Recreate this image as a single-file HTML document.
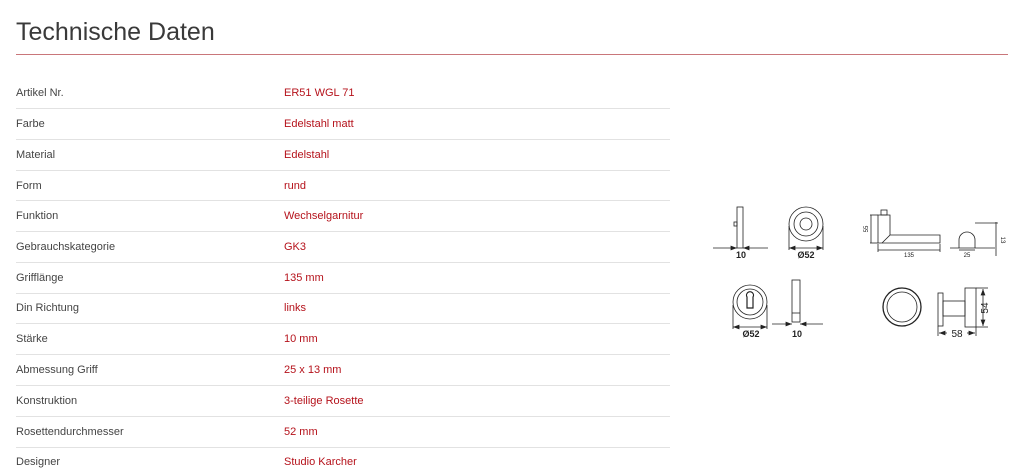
<!DOCTYPE html>
<html><head><meta charset="utf-8"><style>
html,body{margin:0;padding:0;background:#fff;width:1024px;height:474px;overflow:hidden;position:relative;font-family:"Liberation Sans",sans-serif}
h1{position:absolute;left:16px;top:18px;margin:0;font-weight:300;font-size:25px;color:#3a3a3a;letter-spacing:0}
.red{position:absolute;left:16px;top:54px;width:992px;height:1px;background:#c9767a}
.r{position:absolute;left:16px;width:654px;font-size:11px;color:#444}
.r span{position:absolute;left:268px;color:#b5121b;white-space:nowrap}
.d{position:absolute;left:16px;width:654px;height:1px;background:#e2e2e2}
svg{position:absolute;left:0;top:0}
</style></head><body>
<h1>Technische Daten</h1>
<div class="red"></div>
<div class="r" style="top:87px">Artikel Nr.<span>ER51 WGL 71</span></div>
<div class="d" style="top:108px"></div>
<div class="r" style="top:118px">Farbe<span>Edelstahl matt</span></div>
<div class="d" style="top:139px"></div>
<div class="r" style="top:149px">Material<span>Edelstahl</span></div>
<div class="d" style="top:170px"></div>
<div class="r" style="top:180px">Form<span>rund</span></div>
<div class="d" style="top:200px"></div>
<div class="r" style="top:210px">Funktion<span>Wechselgarnitur</span></div>
<div class="d" style="top:231px"></div>
<div class="r" style="top:241px">Gebrauchskategorie<span>GK3</span></div>
<div class="d" style="top:262px"></div>
<div class="r" style="top:272px">Grifflänge<span>135 mm</span></div>
<div class="d" style="top:293px"></div>
<div class="r" style="top:302px">Din Richtung<span>links</span></div>
<div class="d" style="top:323px"></div>
<div class="r" style="top:333px">Stärke<span>10 mm</span></div>
<div class="d" style="top:354px"></div>
<div class="r" style="top:364px">Abmessung Griff<span>25 x 13 mm</span></div>
<div class="d" style="top:385px"></div>
<div class="r" style="top:395px">Konstruktion<span>3-teilige Rosette</span></div>
<div class="d" style="top:416px"></div>
<div class="r" style="top:426px">Rosettendurchmesser<span>52 mm</span></div>
<div class="d" style="top:447px"></div>
<div class="r" style="top:456px">Designer<span>Studio Karcher</span></div>

<svg width="1024" height="474" viewBox="0 0 1024 474" fill="none" stroke="#222" stroke-width="0.8">
<defs><marker id="a" markerWidth="8" markerHeight="6" refX="8" refY="3" orient="auto"><path d="M0,0L8,3L0,6z" fill="#222" stroke="none"/></marker></defs>
<rect x="737" y="207" width="6" height="41"/><rect x="734" y="222" width="3" height="4"/>
<line x1="713" y1="248" x2="737" y2="248" marker-end="url(#a)"/><line x1="768" y1="248" x2="743" y2="248" marker-end="url(#a)"/>
<circle cx="806" cy="224" r="17"/><circle cx="806" cy="224" r="12"/><circle cx="806" cy="224" r="6"/>
<line x1="789" y1="226" x2="789" y2="250"/><line x1="823" y1="226" x2="823" y2="250"/>
<line x1="806" y1="248" x2="789" y2="248" marker-end="url(#a)"/><line x1="806" y1="248" x2="823" y2="248" marker-end="url(#a)"/>
<rect x="881" y="210" width="6" height="5"/>
<path d="M878 215H890V235H940V243H878Z"/><path d="M882 243L890 235"/>
<line x1="870" y1="215" x2="878" y2="215"/><line x1="870" y1="243" x2="878" y2="243"/><line x1="871" y1="215" x2="871" y2="243"/>
<line x1="878" y1="244" x2="878" y2="252"/><line x1="940" y1="244" x2="940" y2="252"/><line x1="878" y1="250" x2="940" y2="250"/>
<path d="M959 248V240A8 8 0 0 1 975 240V248"/>
<line x1="950" y1="248" x2="995" y2="248"/><line x1="959" y1="250" x2="975" y2="250"/>
<line x1="975" y1="223" x2="998" y2="223"/><line x1="996" y1="222" x2="996" y2="256"/>
<circle cx="750" cy="302" r="17"/><circle cx="750" cy="302" r="13"/>
<path d="M747 297A3.5 3.5 0 1 1 753 297L753 308H747Z" stroke-width="1.2"/>
<line x1="733" y1="305" x2="733" y2="329"/><line x1="767" y1="305" x2="767" y2="329"/>
<line x1="750" y1="327" x2="733" y2="327" marker-end="url(#a)"/><line x1="750" y1="327" x2="767" y2="327" marker-end="url(#a)"/>
<rect x="792" y="280" width="8" height="42"/><line x1="792" y1="313" x2="800" y2="313"/>
<line x1="772" y1="324" x2="792" y2="324" marker-end="url(#a)"/><line x1="823" y1="324" x2="800" y2="324" marker-end="url(#a)"/>
<circle cx="902" cy="307" r="19" stroke-width="1.3"/><circle cx="902" cy="307" r="15"/>
<rect x="938" y="293" width="5" height="33"/><rect x="943" y="301" width="22" height="15"/><rect x="965" y="288" width="11" height="39"/>
<line x1="976" y1="288" x2="988" y2="288"/><line x1="976" y1="327" x2="988" y2="327"/>
<line x1="983" y1="307" x2="983" y2="289" marker-end="url(#a)"/><line x1="983" y1="307" x2="983" y2="326" marker-end="url(#a)"/>
<line x1="938" y1="326" x2="938" y2="336"/><line x1="976" y1="327" x2="976" y2="336"/>
<line x1="947" y1="333" x2="939" y2="333" marker-end="url(#a)"/><line x1="967" y1="333" x2="975" y2="333" marker-end="url(#a)"/>
<g fill="#222" stroke="none" font-family="Liberation Sans" text-anchor="middle">
<text x="741" y="258" font-size="9" font-weight="bold">10</text>
<text x="806" y="258" font-size="9" font-weight="bold">Ø52</text>
<text x="909" y="257" font-size="6">135</text>
<text x="967" y="257" font-size="6">25</text>
<text x="868" y="229" font-size="6" transform="rotate(-90 868 229)">55</text>
<text x="1001" y="240" font-size="6" transform="rotate(90 1001 240)">13</text>
<text x="751" y="337" font-size="9" font-weight="bold">Ø52</text>
<text x="797" y="337" font-size="9" font-weight="bold">10</text>
<text x="957" y="337" font-size="10">58</text>
<text x="988" y="308" font-size="10" transform="rotate(-90 988 308)">54</text>
</g>
</svg>
</body></html>
